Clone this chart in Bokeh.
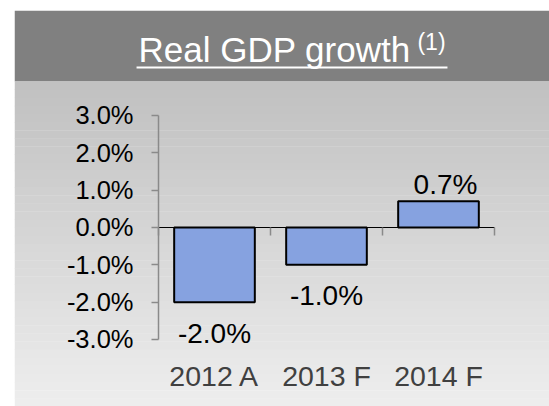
from bokeh.plotting import figure
from bokeh.models import (Range1d, LinearAxis, FixedTicker, BoxAnnotation, Label,
                          ColumnDataSource)
from bokeh.embed import file_html
from bokeh.resources import INLINE
from bokeh.core.properties import value

# ---- data ----
categories = ["2012 A", "2013 F", "2014 F"]
growth = [-2.0, -1.0, 0.7]          # percent
value_labels = ["-2.0%", "-1.0%", "0.7%"]
y_ticks = [-3, -2, -1, 0, 1, 2, 3]
y_tick_labels = ["-3.0%", "-2.0%", "-1.0%", "0.0%", "1.0%", "2.0%", "3.0%"]
title_text = "Real GDP growth"
title_note = "(1)"

FONT = "Liberation Sans"
xs = list(range(len(categories)))

p = figure(width=549, height=406, output_backend="svg", toolbar_location=None,
           x_axis_type=None, y_axis_type=None,
           x_range=Range1d(-1.7857, 2.9911), y_range=Range1d(-4.795, 5.8125),
           min_border_left=14, min_border_top=10, min_border_right=0, min_border_bottom=0,
           border_fill_color="white", background_fill_color="white", outline_line_color=None)
p.grid.visible = False

# ---- background: banner + vertical gradient ----
p.add_layout(BoxAnnotation(bottom=3.911, fill_color="#808080", fill_alpha=1,
                           line_alpha=0, level="underlay"))
n = 40
top = 3.911
bot = -4.795
for i in range(n):
    t0 = top - (top - bot) * i / n
    t1 = top - (top - bot) * (i + 1) / n
    g = int(round(192 + (238 - 192) * (i + 0.5) / n))
    p.add_layout(BoxAnnotation(top=t0, bottom=t1 - 0.01, fill_color=(g, g, g), fill_alpha=1,
                               line_alpha=0, level="underlay"))

# ---- title ----
p.add_layout(Label(x=-0.679, y=4.768, text=title_text, text_font=FONT,
                   text_font_size="35px", text_color="white", text_align="left",
                   text_baseline="alphabetic"))
p.add_layout(Label(x=1.812, y=4.98, text=title_note, text_font=FONT,
                   text_font_size="23px", text_color="white", text_align="left",
                   text_baseline="alphabetic"))
p.add_layout(BoxAnnotation(left=-0.696, right=2.080, top=4.3125, bottom=4.259,
                           fill_color="white", fill_alpha=1, line_alpha=0, level="annotation"))

# ---- bars ----
src = ColumnDataSource(dict(x=xs, top=growth, lab=value_labels,
                            yoff=[31 if v < 0 else -17 for v in growth],
                            xoff=[0 if v < 0 else 7 for v in growth]))
p.vbar(x="x", top="top", bottom=0, width=0.72, source=src,
       fill_color="#86a2e0", line_color="black", line_width=2)
p.text(x="x", y="top", text="lab", source=src, x_offset="xoff", y_offset="yoff",
       text_font=value(FONT), text_font_size="28px", text_color="black",
       text_align="center", text_baseline="middle")

# ---- y axis ----
yax = LinearAxis(fixed_location=-0.5, ticker=FixedTicker(ticks=y_ticks),
                 bounds=(min(y_ticks), max(y_ticks)))
yax.major_label_overrides = {t: l for t, l in zip(y_ticks, y_tick_labels)}
yax.axis_line_color = "#8a8a8a"
yax.axis_line_width = 1.5
yax.major_tick_line_color = "#8a8a8a"
yax.major_tick_line_width = 1.5
yax.major_tick_in = 0
yax.major_tick_out = 7
yax.minor_tick_line_color = None
yax.major_label_standoff = 18
yax.major_label_text_font = FONT
yax.major_label_text_font_size = "25.5px"
yax.major_label_text_color = "black"
p.add_layout(yax, "left")

# ---- x axis: zero line with category boundary ticks ----
bounds = [i - 0.5 for i in range(len(categories) + 1)]
xax = LinearAxis(fixed_location=0, ticker=FixedTicker(ticks=bounds),
                 bounds=(bounds[0], bounds[-1]))
xax.major_label_overrides = {b: "" for b in bounds}
xax.axis_line_color = "black"
xax.axis_line_width = 1
xax.major_tick_line_color = "#8a8a8a"
xax.major_tick_line_width = 1.5
xax.major_tick_in = 0
xax.major_tick_out = 8
xax.minor_tick_line_color = None
p.add_layout(xax, "below")

# ---- category labels (low position) ----
cax = LinearAxis(fixed_location=-3, ticker=FixedTicker(ticks=xs))
cax.major_label_overrides = {x: c for x, c in zip(xs, categories)}
cax.axis_line_color = None
cax.major_tick_line_color = None
cax.minor_tick_line_color = None
cax.major_tick_out = 0
cax.major_tick_in = 0
cax.major_label_standoff = 21
cax.major_label_text_font = FONT
cax.major_label_text_font_size = "28.5px"
cax.major_label_text_color = "#404040"
p.add_layout(cax, "below")

open("out.html", "w").write(file_html(p, INLINE))
